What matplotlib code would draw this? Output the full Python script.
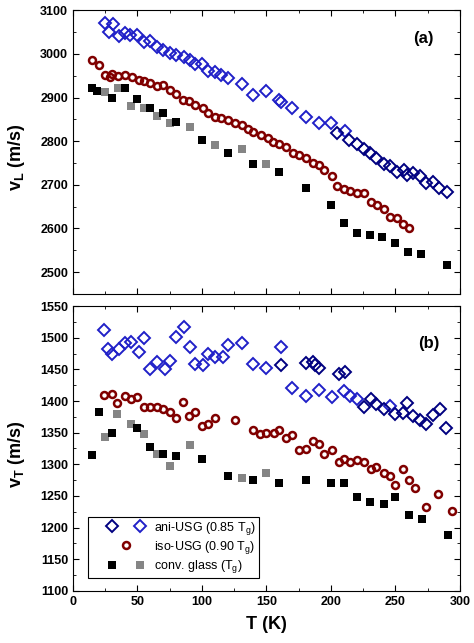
import numpy as np
import matplotlib
matplotlib.use("Agg")
import matplotlib.pyplot as plt
from matplotlib.legend_handler import HandlerTuple
from matplotlib.ticker import MultipleLocator

plt.rcParams['font.family'] = ['Liberation Sans', 'DejaVu Sans']
plt.rcParams['mathtext.default'] = 'regular'

# ---- panel (a): longitudinal sound velocity ----
ani_dark_T_a = [205, 214, 220, 226, 230, 235, 241, 246, 251, 257, 259, 264, 269, 274, 279, 284, 290]
ani_dark_v_a = [2819, 2803, 2793, 2783, 2772, 2761, 2748, 2743, 2730, 2735, 2722, 2726, 2719, 2703, 2707, 2692, 2684]
ani_blue_T_a = [25, 28, 31, 36, 40, 44, 50, 55, 60, 65, 70, 75, 80, 86, 91, 95, 100, 105, 110, 115,
                120, 131, 140, 150, 160, 161, 170, 181, 191, 200, 211]
ani_blue_v_a = [3071, 3050, 3068, 3040, 3047, 3043, 3043, 3027, 3030, 3016, 3008, 3001, 2997, 2992, 2986,
                2978, 2976, 2961, 2959, 2951, 2944, 2932, 2905, 2915, 2894, 2890, 2877, 2856, 2842, 2842, 2824]
iso_T_a = [15, 20, 25, 29, 30, 35, 40, 46, 51, 55, 60, 65, 70, 75, 80, 85, 90, 95, 101, 105, 110, 115,
           120, 126, 131, 136, 140, 146, 151, 155, 160, 165, 171, 175, 181, 186, 191, 195, 201, 205, 210,
           215, 220, 226, 231, 236, 241, 246, 251, 256, 261]
iso_v_a = [2986, 2974, 2951, 2948, 2955, 2949, 2951, 2946, 2941, 2938, 2934, 2926, 2928, 2918, 2908, 2894,
           2892, 2883, 2875, 2864, 2856, 2854, 2848, 2841, 2837, 2829, 2822, 2814, 2808, 2799, 2793, 2787,
           2773, 2768, 2761, 2751, 2745, 2734, 2719, 2697, 2690, 2686, 2682, 2682, 2661, 2654, 2644, 2627,
           2623, 2610, 2600]
conv_black_T_a = [15, 19, 30, 40, 50, 60, 70, 80, 100, 120, 140, 160, 181, 200, 210, 220, 230, 240, 250, 260, 270, 290]
conv_black_v_a = [2921, 2915, 2900, 2921, 2896, 2877, 2865, 2844, 2803, 2773, 2748, 2730, 2692, 2654, 2612,
                  2590, 2585, 2581, 2566, 2547, 2542, 2516]
conv_gray_T_a = [25, 35, 45, 55, 65, 75, 91, 110, 131, 150]
conv_gray_v_a = [2913, 2921, 2880, 2875, 2857, 2842, 2832, 2791, 2783, 2748]

# ---- panel (b): transverse sound velocity ----
ani_dark_T_b = [161, 181, 186, 188, 191, 206, 211, 226, 231, 235, 241, 250, 256, 259, 264, 269, 274, 279, 285, 289]
ani_dark_v_b = [1457, 1460, 1462, 1457, 1452, 1443, 1446, 1390, 1403, 1396, 1387, 1379, 1381, 1397, 1376,
                1370, 1364, 1378, 1387, 1358]
ani_blue_T_b = [24, 27, 30, 36, 40, 45, 51, 55, 60, 65, 71, 75, 80, 86, 91, 95, 101, 105, 110, 116, 120,
                131, 140, 150, 161, 170, 181, 191, 201, 210, 215, 220, 246]
ani_blue_v_b = [1512, 1482, 1475, 1482, 1492, 1494, 1478, 1499, 1450, 1462, 1450, 1464, 1501, 1517, 1485,
                1458, 1457, 1474, 1469, 1469, 1488, 1492, 1458, 1452, 1486, 1420, 1408, 1417, 1406, 1416,
                1408, 1403, 1392]
iso_T_b = [24, 30, 34, 40, 45, 50, 55, 60, 65, 70, 75, 80, 85, 90, 95, 100, 105, 110, 126, 140, 145, 150,
           156, 160, 165, 170, 175, 181, 186, 191, 195, 201, 206, 210, 215, 220, 226, 231, 235, 241, 246,
           250, 256, 261, 265, 274, 283, 294]
iso_v_b = [1409, 1411, 1397, 1408, 1403, 1406, 1390, 1391, 1390, 1388, 1382, 1373, 1399, 1376, 1383, 1361,
           1364, 1373, 1370, 1355, 1348, 1350, 1349, 1355, 1341, 1346, 1322, 1324, 1337, 1332, 1316, 1323,
           1303, 1308, 1303, 1307, 1303, 1292, 1295, 1287, 1282, 1267, 1292, 1276, 1262, 1232, 1253, 1227]
conv_black_T_b = [15, 20, 30, 50, 60, 70, 80, 100, 120, 140, 160, 181, 200, 210, 220, 230, 241, 250, 261, 271, 291]
conv_black_v_b = [1315, 1382, 1350, 1358, 1328, 1316, 1313, 1308, 1282, 1275, 1271, 1275, 1271, 1270, 1248,
                  1241, 1237, 1248, 1220, 1214, 1188]
conv_gray_T_b = [25, 34, 45, 55, 65, 75, 91, 131, 150]
conv_gray_v_b = [1343, 1380, 1364, 1348, 1316, 1297, 1331, 1278, 1286]

legend_labels = ['ani-USG (0.85 T$_g$)', 'iso-USG (0.90 T$_g$)', 'conv. glass (T$_g$)']

navy = '#000080'
blue = '#2020c8'
dred = '#800000'
gray = '#858585'

fig = plt.figure(figsize=(4.74, 6.43), dpi=100)
ax1 = fig.add_axes([0.154, 0.543, 0.816, 0.441])
ax2 = fig.add_axes([0.154, 0.081, 0.816, 0.443])

dkw = dict(ls='none', marker='D', ms=5.8, mfc='none', mew=1.4)
ckw = dict(ls='none', marker='o', ms=5, mfc='none', mew=1.8, color=dred)
skw = dict(ls='none', marker='s', ms=6, mew=0)


def draw(ax, d):
    ax.plot(d[0], d[1], color=blue, **dkw)
    ax.plot(d[2], d[3], color=navy, **dkw)
    ax.plot(d[4], d[5], **ckw)
    ax.plot(d[8], d[9], color=gray, **skw)
    ax.plot(d[6], d[7], color='black', **skw)


draw(ax1, [ani_blue_T_a, ani_blue_v_a, ani_dark_T_a, ani_dark_v_a, iso_T_a, iso_v_a,
           conv_black_T_a, conv_black_v_a, conv_gray_T_a, conv_gray_v_a])
draw(ax2, [ani_blue_T_b, ani_blue_v_b, ani_dark_T_b, ani_dark_v_b, iso_T_b, iso_v_b,
           conv_black_T_b, conv_black_v_b, conv_gray_T_b, conv_gray_v_b])

ax1.set_ylim(2450, 3100)
ax1.yaxis.set_major_locator(MultipleLocator(100))
ax1.yaxis.set_minor_locator(MultipleLocator(50))
ax2.set_ylim(1100, 1550)
ax2.yaxis.set_major_locator(MultipleLocator(50))
ax2.yaxis.set_minor_locator(MultipleLocator(25))

for ax in (ax1, ax2):
    ax.set_xlim(0, 300)
    ax.xaxis.set_major_locator(MultipleLocator(50))
    ax.xaxis.set_minor_locator(MultipleLocator(25))
    ax.tick_params(which='both', direction='in', top=True, right=True, labelsize=9)
    ax.tick_params(which='major', length=4)
    ax.tick_params(which='minor', length=2.5)
    for lab in ax.get_xticklabels() + ax.get_yticklabels():
        lab.set_fontweight('bold')
ax1.tick_params(labelbottom=False)

ax1.set_ylabel('v$_L$ (m/s)', fontsize=13, fontweight='bold')
ax2.set_ylabel('v$_T$ (m/s)', fontsize=13, fontweight='bold')
ax2.set_xlabel('T (K)', fontsize=13, fontweight='bold', labelpad=6)
ax1.yaxis.set_label_coords(-0.118, 0.48)
ax2.yaxis.set_label_coords(-0.118, 0.48)

ax1.text(0.905, 0.9, '(a)', transform=ax1.transAxes, fontsize=12, fontweight='bold', ha='center', va='center')
ax2.text(0.92, 0.87, '(b)', transform=ax2.transAxes, fontsize=12, fontweight='bold', ha='center', va='center')


# tuple handler that leaves some empty room at the left of the handle box
class ShiftedTuple(HandlerTuple):
    def create_artists(self, legend, orig_handle, xdescent, ydescent, width, height, fontsize, trans):
        s = 0.74 * fontsize
        return super().create_artists(legend, orig_handle, xdescent - s, ydescent,
                                      width - s, height, fontsize, trans)


h_ani = (plt.Line2D([], [], color=navy, **dkw), plt.Line2D([], [], color=blue, **dkw))
h_iso = (plt.Line2D([], [], **ckw),)
h_conv = (plt.Line2D([], [], color='black', **skw), plt.Line2D([], [], color=gray, **skw))
leg = ax2.legend([h_ani, h_iso, h_conv], legend_labels,
                 handler_map={tuple: ShiftedTuple(ndivide=None, pad=0.32)},
                 loc='lower left', bbox_to_anchor=(0.039, 0.046), borderaxespad=0, fontsize=9,
                 fancybox=False, edgecolor='black', framealpha=1, handlelength=4.9,
                 labelspacing=0.18, borderpad=0.22, handletextpad=0.16)
leg.get_frame().set_linewidth(0.8)

fig.savefig('out.png', dpi=100)
